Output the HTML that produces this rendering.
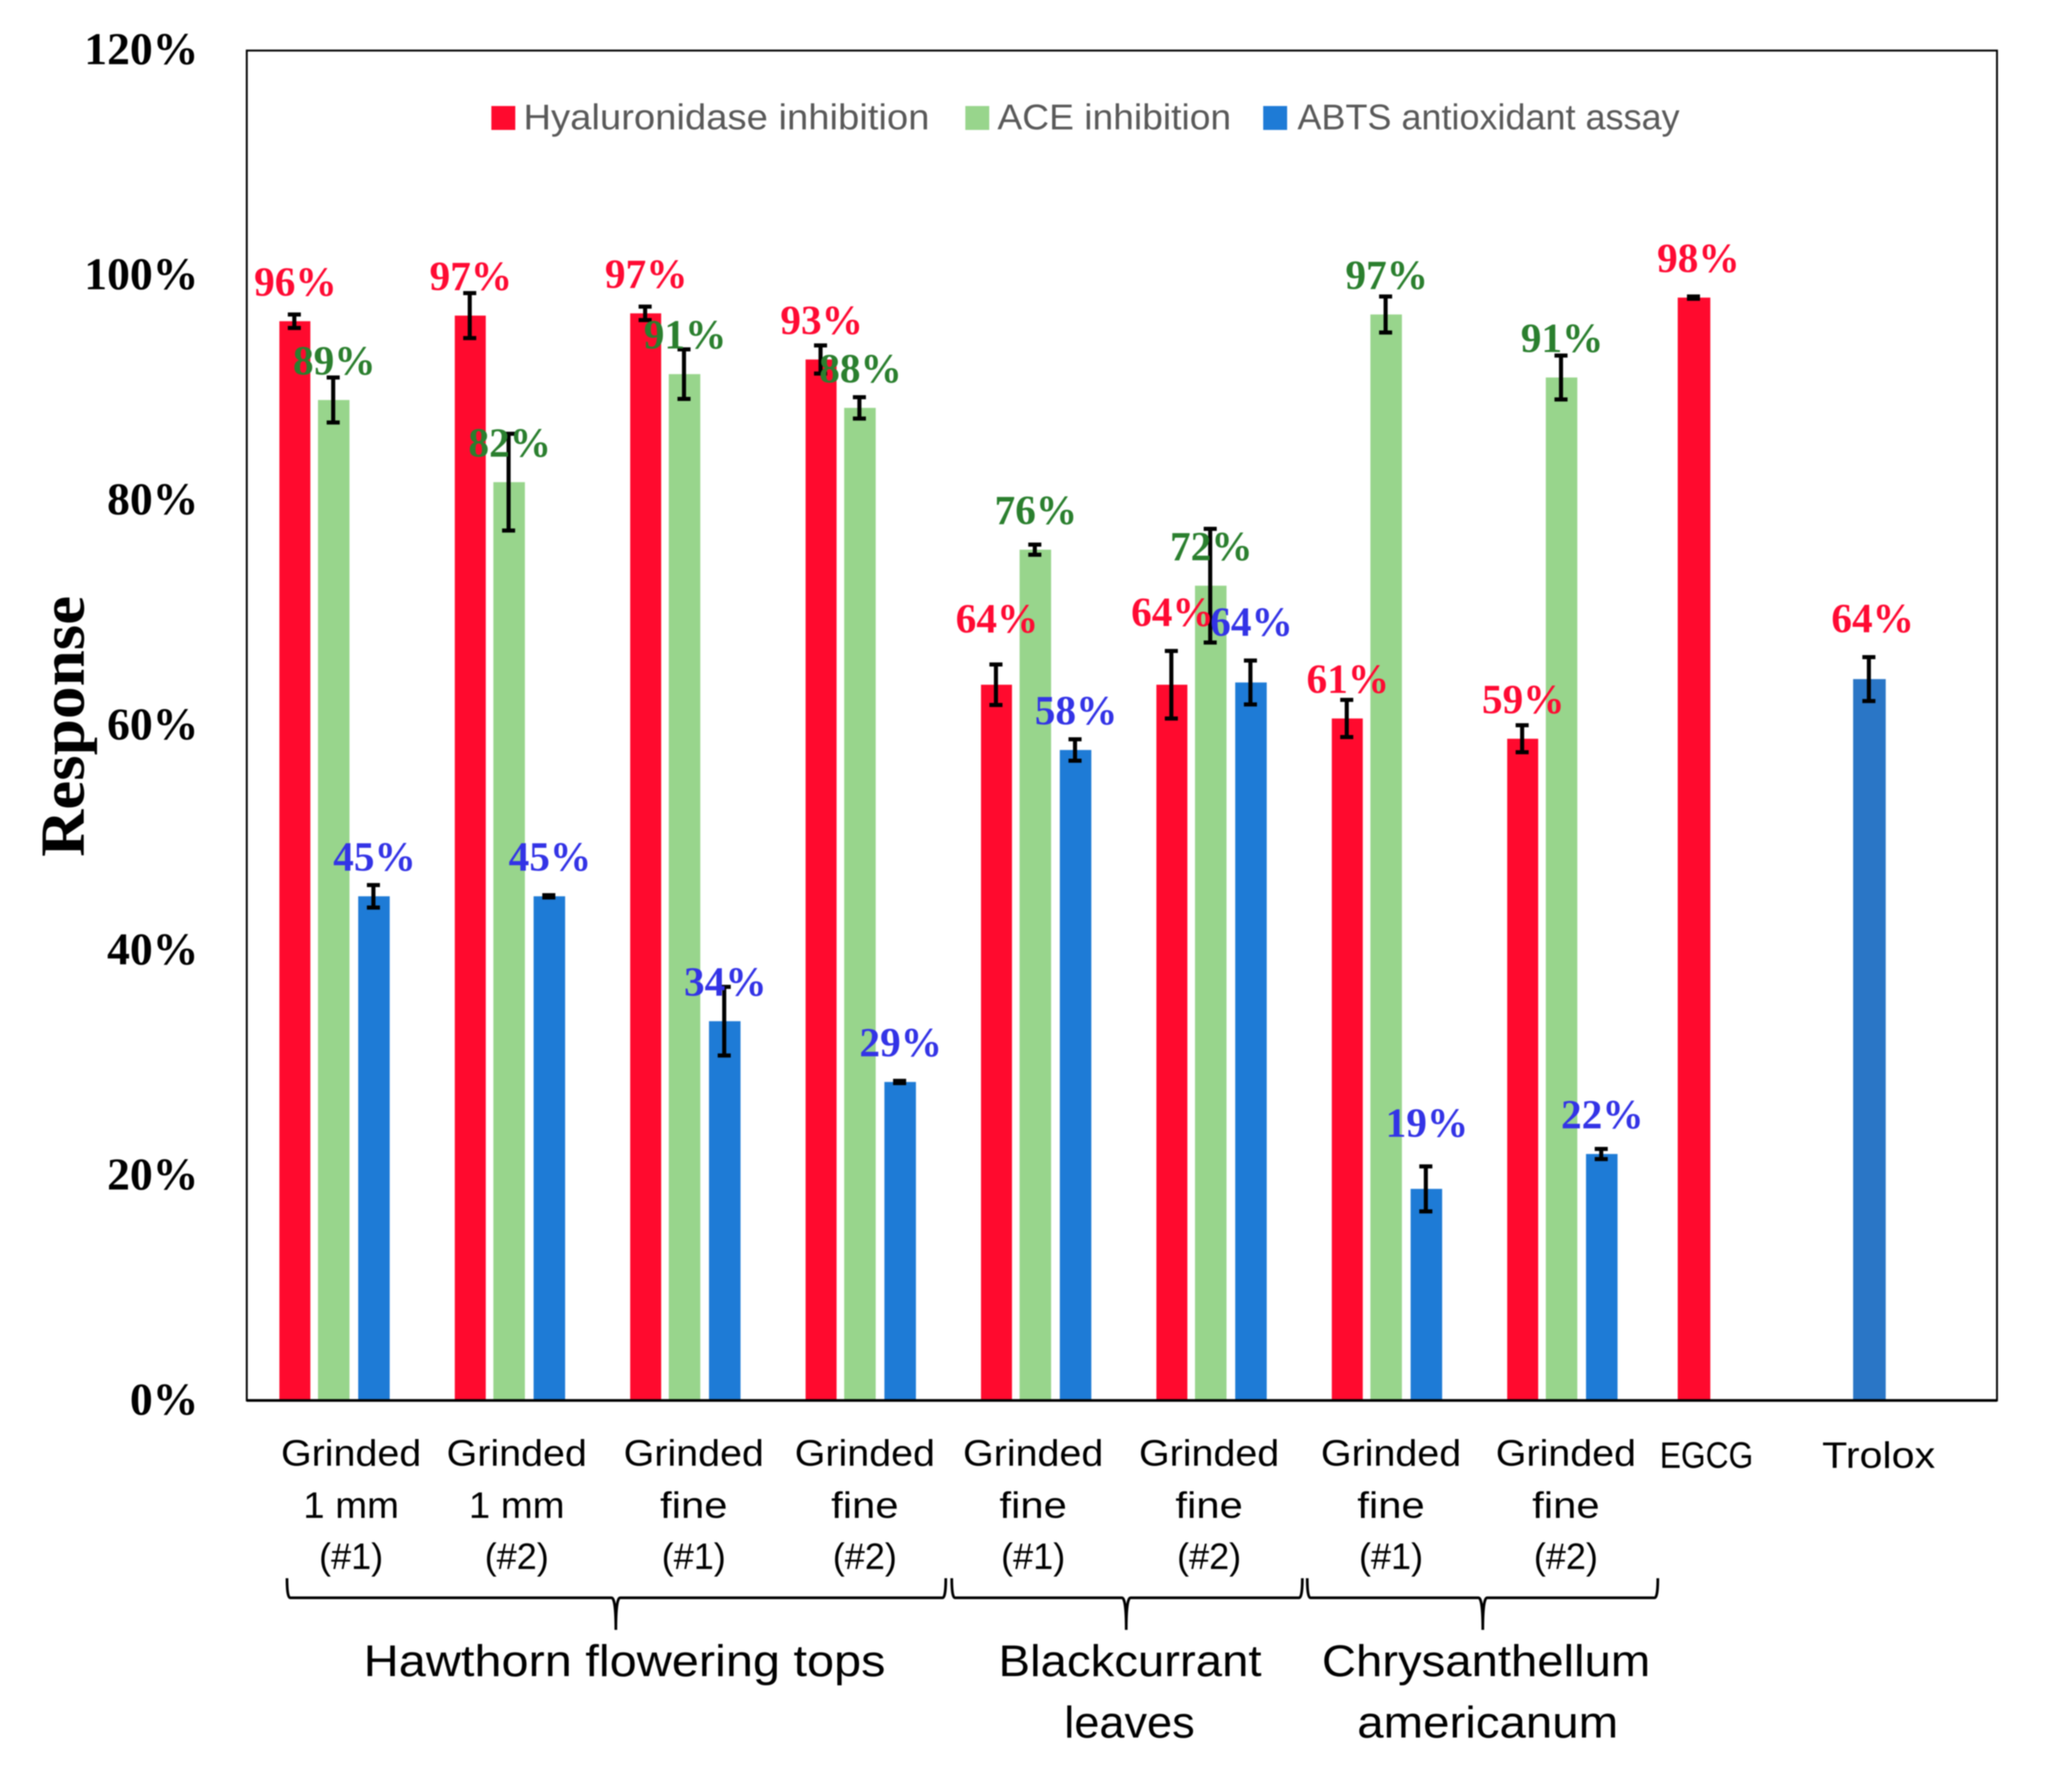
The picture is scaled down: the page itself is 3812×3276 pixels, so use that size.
<!DOCTYPE html>
<html lang="en">
<head>
<meta charset="utf-8">
<title>Response by extract</title>
<style>
html,body{margin:0;padding:0;background:#fff;}
svg{display:block;filter:blur(1px);}
.serif{font-family:"Liberation Serif",serif;font-weight:bold;}
.sans{font-family:"Liberation Sans",sans-serif;}
</style>
</head>
<body>
<svg id="chart" xmlns="http://www.w3.org/2000/svg" width="3812" height="3276" viewBox="0 0 3812 3276">
  <rect x="0" y="0" width="3812" height="3276" fill="#fff"/>
  <g id="bars"></g>
  <g id="errors"></g>
  <g id="labels"></g>
  <rect x="454" y="93" width="3220" height="2483" fill="none" stroke="#000" stroke-width="3.5"/>
  <line x1="454" y1="2576" x2="3674" y2="2576" stroke="#000" stroke-width="5"/>
  <g id="yticks"></g>
  <text class="serif" transform="translate(154,1336) rotate(-90)" text-anchor="middle" font-size="116" textLength="480" lengthAdjust="spacingAndGlyphs" fill="#000">Response</text>
  <g id="legend">
    <rect x="904" y="195" width="44" height="44" fill="#ff0a2e"/>
    <text class="sans" x="963" y="238" font-size="66" textLength="747" lengthAdjust="spacingAndGlyphs" fill="#595959">Hyaluronidase inhibition</text>
    <rect x="1776" y="195" width="44" height="44" fill="#98d58c"/>
    <text class="sans" x="1835" y="238" font-size="66" textLength="430" lengthAdjust="spacingAndGlyphs" fill="#595959">ACE inhibition</text>
    <rect x="2324" y="195" width="44" height="44" fill="#1e7bd6"/>
    <text class="sans" x="2387" y="238" font-size="66" textLength="703" lengthAdjust="spacingAndGlyphs" fill="#595959">ABTS antioxidant assay</text>
  </g>
  <g id="catlabels"></g>
  <g fill="none" stroke="#000" stroke-width="5">
    <path d="M528,2903 Q528,2939 534,2939 L1125,2939 Q1133,2939 1133,2998 Q1133,2939 1141,2939 L1734,2939 Q1740,2939 1740,2903"/>
    <path d="M1751,2903 Q1751,2939 1757,2939 L2064,2939 Q2072,2939 2072,2998 Q2072,2939 2080,2939 L2390,2939 Q2396,2939 2396,2903"/>
    <path d="M2405,2903 Q2405,2939 2411,2939 L2720,2939 Q2728,2939 2728,2998 Q2728,2939 2736,2939 L3044,2939 Q3050,2939 3050,2903"/>
  </g>
  <g class="sans" font-size="82" fill="#000">
    <text x="669" y="3083" textLength="960" lengthAdjust="spacingAndGlyphs">Hawthorn  flowering tops</text>
    <text x="1837" y="3083" textLength="484" lengthAdjust="spacingAndGlyphs">Blackcurrant</text>
    <text x="1958" y="3196" textLength="240" lengthAdjust="spacingAndGlyphs">leaves</text>
    <text x="2432" y="3083" textLength="604" lengthAdjust="spacingAndGlyphs">Chrysanthellum</text>
    <text x="2497" y="3196" textLength="480" lengthAdjust="spacingAndGlyphs">americanum</text>
  </g>
</svg>
<script>
// ---- chart data (percent values) ----
const categories = [
  ["Grinded", "1 mm", "(#1)"], ["Grinded", "1 mm", "(#2)"],
  ["Grinded", "fine", "(#1)"], ["Grinded", "fine", "(#2)"],
  ["Grinded", "fine", "(#1)"], ["Grinded", "fine", "(#2)"],
  ["Grinded", "fine", "(#1)"], ["Grinded", "fine", "(#2)"],
  ["EGCG"], ["Trolox"]
];
const yTickValues = [0, 20, 40, 60, 80, 100, 120];
const yTickLabels = ["0%", "20%", "40%", "60%", "80%", "100%", "120%"];

const hyaluronidase       = [95.9, 96.4, 96.6, 92.5, 63.6, 63.6, 60.6, 58.8, null, null];
const hyaluronidaseError  = [0.6, 2.0, 0.6, 1.25, 1.8, 3.0, 1.65, 1.2, null, null];
const hyaluronidaseLabels = ["96%", "97%", "97%", "93%", "64%", "64%", "61%", "59%", null, null];

const ace       = [88.9, 81.6, 91.2, 88.2, 75.6, 72.4, 96.5, 90.9, null, null];
const aceError  = [2.0, 4.3, 2.2, 0.95, 0.45, 5.05, 1.6, 1.95, null, null];
const aceLabels = ["89%", "82%", "91%", "88%", "76%", "72%", "97%", "91%", null, null];

const abts       = [44.8, 44.8, 33.7, 28.3, 57.8, 63.8, 18.8, 21.9, null, null];
const abtsError  = [1.0, 0.1, 3.05, 0.1, 0.95, 1.95, 2.0, 0.45, null, null];
const abtsLabels = ["45%", "45%", "34%", "29%", "58%", "64%", "19%", "22%", null, null];

const egcg       = [null, null, null, null, null, null, null, null, 98.0, null];
const egcgError  = [null, null, null, null, null, null, null, null, 0.1, null];
const egcgLabels = [null, null, null, null, null, null, null, null, "98%", null];

const trolox       = [null, null, null, null, null, null, null, null, null, 64.1];
const troloxError  = [null, null, null, null, null, null, null, null, null, 1.95];
const troloxLabels = [null, null, null, null, null, null, null, null, null, "64%"];

// ---- layout ----
const NS = "http://www.w3.org/2000/svg";
const plotBottom = 2576, pxPerUnit = 2484 / 120;
const bandStart = 514, bandStep = 322.7;
function yScale(v) { return plotBottom - v * pxPerUnit; }
function xBand(i) { return bandStart + i * bandStep; }

const seriesList = [
  {key: "hyaluronidase", values: hyaluronidase, errors: hyaluronidaseError, labels: hyaluronidaseLabels, fill: "#ff0a2e", text: "#ff0a33", offset: 0, width: 57, labelShift: 1, lift: {4: 49, 5: 61}},
  {key: "ace", values: ace, errors: aceError, labels: aceLabels, fill: "#98d58c", text: "#2a7f2e", offset: 71, width: 58, labelShift: 1, lift: {}},
  {key: "abts", values: abts, errors: abtsError, labels: abtsLabels, fill: "#1e7bd6", text: "#3333e6", offset: 145, width: 58, labelShift: 1, lift: {5: 39, 6: 49}},
  {key: "egcg", values: egcg, errors: egcgError, labels: egcgLabels, fill: "#ff0a2e", text: "#ff0a33", offset: -9, width: 60, labelShift: 8, lift: {}},
  {key: "trolox", values: trolox, errors: troloxError, labels: troloxLabels, fill: "#2a76c6", text: "#ff0a33", offset: -9, width: 60, labelShift: 6, lift: {9: 39}}
];
// hand-placed centres of the category captions, relative to each band start
const catNudge = [132, 114, 117, 109, 96, 97, 109, 108, 44, 38];
const catWidths = {"Grinded": 258, "1 mm": 176, "fine": 124, "(#1)": 118, "(#2)": 118, "EGCG": 172, "Trolox": 208};
const catBaselines = [2696, 2792, 2886];
const singleBaseline = 2700;

const barsG = document.getElementById("bars");
const errG = document.getElementById("errors");
const labG = document.getElementById("labels");
const tickG = document.getElementById("yticks");
const catG = document.getElementById("catlabels");

seriesList.forEach(function (s) {
  s.values.forEach(function (v, i) {
    if (v === null) return;
    const x = xBand(i) + s.offset;
    const cx = x + s.width / 2;
    const top = yScale(v);

    const bar = document.createElementNS(NS, "rect");
    bar.setAttribute("x", x);
    bar.setAttribute("y", top);
    bar.setAttribute("width", s.width);
    bar.setAttribute("height", plotBottom - top);
    bar.setAttribute("fill", s.fill);
    
    
    barsG.appendChild(bar);

    const e = s.errors[i];
    const ex = cx - 1;
    const err = document.createElementNS(NS, "path");
    err.setAttribute("d", "M" + (ex - 12) + "," + yScale(v + e) + "H" + (ex + 12) +
      "M" + ex + "," + yScale(v + e) + "V" + yScale(v - e) +
      "M" + (ex - 12) + "," + yScale(v - e) + "H" + (ex + 12));
    err.setAttribute("fill", "none");
    err.setAttribute("stroke", "#000");
    err.setAttribute("stroke-width", "7.5");
    
    
    errG.appendChild(err);

    const t = document.createElementNS(NS, "text");
    t.setAttribute("x", cx + s.labelShift);
    t.setAttribute("y", top - 47 - (s.lift[i] || 0));
    t.setAttribute("text-anchor", "middle");
    t.setAttribute("class", "serif");
    t.setAttribute("font-size", "76");
    t.setAttribute("fill", s.text);
    
    
    t.textContent = s.labels[i];
    labG.appendChild(t);
  });
});

yTickValues.forEach(function (v, i) {
  const t = document.createElementNS(NS, "text");
  t.setAttribute("x", 365);
  t.setAttribute("y", yScale(v) + 26);
  t.setAttribute("text-anchor", "end");
  t.setAttribute("class", "serif");
  t.setAttribute("font-size", "84");
  t.setAttribute("fill", "#000");
  
  
  t.textContent = yTickLabels[i];
  tickG.appendChild(t);
});

categories.forEach(function (lines, i) {
  const cx = xBand(i) + catNudge[i];
  lines.forEach(function (line, j) {
    const t = document.createElementNS(NS, "text");
    t.setAttribute("x", cx);
    t.setAttribute("y", lines.length === 1 ? singleBaseline : catBaselines[j]);
    t.setAttribute("text-anchor", "middle");
    t.setAttribute("class", "sans");
    t.setAttribute("font-size", "68");
    t.setAttribute("fill", "#000");
    t.setAttribute("textLength", catWidths[line]);
    t.setAttribute("lengthAdjust", "spacingAndGlyphs");
    
    
    t.textContent = line;
    catG.appendChild(t);
  });
});
</script>
</body>
</html>
